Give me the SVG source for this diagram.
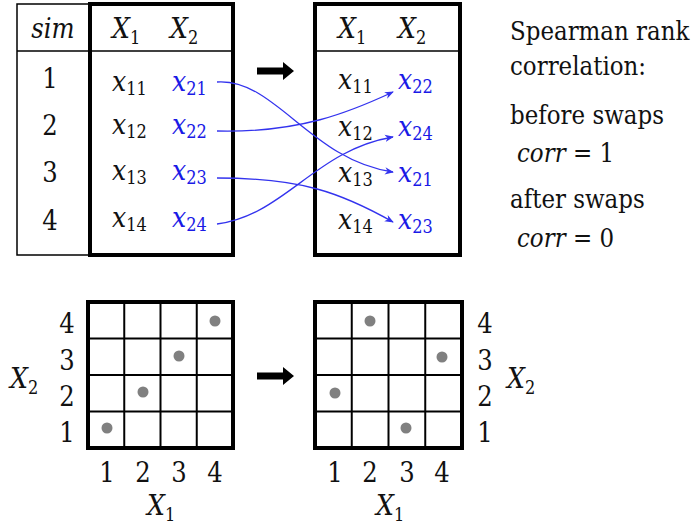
<svg xmlns="http://www.w3.org/2000/svg" width="692" height="529" viewBox="0 0 692 529">
<style>
text{font-family:"DejaVu Serif Condensed","DejaVu Serif",serif;font-stretch:condensed;fill:#111}
.n{font-size:27px}
.t{font-size:25.5px}
.i{font-style:italic}
.v{font-size:28px;font-style:italic}
.s{font-size:18px;font-style:normal}
.b{fill:#1a1ae6}
.thick{fill:none;stroke:#000;stroke-width:4}
.thin{fill:none;stroke:#000;stroke-width:1.5}
.grid{stroke:#000;stroke-width:2}
.dot{fill:#808080}
.con{fill:none;stroke:#3333ee;stroke-width:1.3}
.arr{fill:#000}
</style>
<defs>
<marker id="ah" viewBox="0 0 10 10" refX="9" refY="5" markerWidth="9" markerHeight="9" markerUnits="userSpaceOnUse" orient="auto">
<path d="M0,1 L10,5 L0,9 L3,5 Z" fill="#3333ee"/>
</marker>
</defs>

<g id="table-left">
<rect class="thin" x="17" y="4" width="216" height="251"/>
<line class="thin" x1="17" y1="51" x2="233" y2="51"/>
<rect class="thick" x="90" y="4" width="143" height="251"/>
<text class="n i" x="53" y="38" text-anchor="middle">sim</text>
<text class="n" x="50" y="88" text-anchor="middle">1</text>
<text class="n" x="50" y="135" text-anchor="middle">2</text>
<text class="n" x="50" y="182" text-anchor="middle">3</text>
<text class="n" x="50" y="230" text-anchor="middle">4</text>
<text class="v" x="112" y="38">X<tspan class="s" dy="6">1</tspan></text>
<text class="v" x="170" y="38">X<tspan class="s" dy="6">2</tspan></text>
<text class="v" x="112" y="91">x<tspan class="s" dy="4">11</tspan></text>
<text class="v" x="112" y="134">x<tspan class="s" dy="4">12</tspan></text>
<text class="v" x="112" y="180">x<tspan class="s" dy="4">13</tspan></text>
<text class="v" x="112" y="227">x<tspan class="s" dy="4">14</tspan></text>
<text class="v b" x="172" y="91">x<tspan class="s b" dy="4">21</tspan></text>
<text class="v b" x="172" y="134">x<tspan class="s b" dy="4">22</tspan></text>
<text class="v b" x="172" y="180">x<tspan class="s b" dy="4">23</tspan></text>
<text class="v b" x="172" y="227">x<tspan class="s b" dy="4">24</tspan></text>
</g>

<g id="table-right">
<rect class="thick" x="315" y="4" width="145" height="251"/>
<line class="thin" x1="315" y1="51" x2="460" y2="51"/>
<text class="v" x="338" y="38">X<tspan class="s" dy="6">1</tspan></text>
<text class="v" x="398" y="38">X<tspan class="s" dy="6">2</tspan></text>
<text class="v" x="338" y="89">x<tspan class="s" dy="4">11</tspan></text>
<text class="v" x="338" y="136">x<tspan class="s" dy="4">12</tspan></text>
<text class="v" x="338" y="182">x<tspan class="s" dy="4">13</tspan></text>
<text class="v" x="338" y="229">x<tspan class="s" dy="4">14</tspan></text>
<text class="v b" x="398" y="89">x<tspan class="s b" dy="4">22</tspan></text>
<text class="v b" x="398" y="136">x<tspan class="s b" dy="4">24</tspan></text>
<text class="v b" x="398" y="182">x<tspan class="s b" dy="4">21</tspan></text>
<text class="v b" x="398" y="229">x<tspan class="s b" dy="4">23</tspan></text>
</g>

<g id="notes">
<text class="t" x="510" y="40">Spearman rank</text>
<text class="t" x="510" y="75">correlation:</text>
<text class="t" x="510" y="124">before swaps</text>
<text class="t" x="517" y="162"><tspan class="i">corr</tspan> = 1</text>
<text class="t" x="510" y="208">after swaps</text>
<text class="t" x="517" y="247"><tspan class="i">corr</tspan> = 0</text>
</g>

<g id="grid-left">
<line class="grid" x1="124.25" y1="302" x2="124.25" y2="448"/>
<line class="grid" x1="160.5" y1="302" x2="160.5" y2="448"/>
<line class="grid" x1="196.75" y1="302" x2="196.75" y2="448"/>
<line class="grid" x1="88" y1="338.5" x2="233" y2="338.5"/>
<line class="grid" x1="88" y1="375" x2="233" y2="375"/>
<line class="grid" x1="88" y1="411.5" x2="233" y2="411.5"/>
<rect class="thick" x="88" y="302" width="145" height="146"/>
<circle class="dot" cx="107" cy="428" r="5.5"/>
<circle class="dot" cx="143" cy="392" r="5.5"/>
<circle class="dot" cx="179" cy="356" r="5.5"/>
<circle class="dot" cx="215" cy="321" r="5.5"/>
<text class="n" x="67" y="333" text-anchor="middle">4</text>
<text class="n" x="67" y="370" text-anchor="middle">3</text>
<text class="n" x="67" y="406" text-anchor="middle">2</text>
<text class="n" x="67" y="442" text-anchor="middle">1</text>
<text class="v" x="10" y="388">X<tspan class="s" dy="6">2</tspan></text>
<text class="n" x="107" y="482" text-anchor="middle">1</text>
<text class="n" x="143" y="482" text-anchor="middle">2</text>
<text class="n" x="179" y="482" text-anchor="middle">3</text>
<text class="n" x="215" y="482" text-anchor="middle">4</text>
<text class="v" x="147" y="515">X<tspan class="s" dy="6">1</tspan></text>
</g>

<g id="grid-right">
<line class="grid" x1="351.75" y1="302" x2="351.75" y2="448"/>
<line class="grid" x1="388.5" y1="302" x2="388.5" y2="448"/>
<line class="grid" x1="425.25" y1="302" x2="425.25" y2="448"/>
<line class="grid" x1="315" y1="338.5" x2="462" y2="338.5"/>
<line class="grid" x1="315" y1="375" x2="462" y2="375"/>
<line class="grid" x1="315" y1="411.5" x2="462" y2="411.5"/>
<rect class="thick" x="315" y="302" width="147" height="146"/>
<circle class="dot" cx="370" cy="321" r="5.5"/>
<circle class="dot" cx="442" cy="357" r="5.5"/>
<circle class="dot" cx="335" cy="393" r="5.5"/>
<circle class="dot" cx="406" cy="428" r="5.5"/>
<text class="n" x="485" y="333" text-anchor="middle">4</text>
<text class="n" x="485" y="370" text-anchor="middle">3</text>
<text class="n" x="485" y="406" text-anchor="middle">2</text>
<text class="n" x="485" y="442" text-anchor="middle">1</text>
<text class="v" x="507" y="388">X<tspan class="s" dy="6">2</tspan></text>
<text class="n" x="335" y="482" text-anchor="middle">1</text>
<text class="n" x="370" y="482" text-anchor="middle">2</text>
<text class="n" x="407" y="482" text-anchor="middle">3</text>
<text class="n" x="442" y="482" text-anchor="middle">4</text>
<text class="v" x="376" y="515">X<tspan class="s" dy="6">1</tspan></text>
</g>

<g id="connectors">
<path class="con" marker-end="url(#ah)" d="M217,82 C275,78 310,160 393,172"/>
<path class="con" marker-end="url(#ah)" d="M217,131 C300,133 350,112 393,92"/>
<path class="con" marker-end="url(#ah)" d="M217,178 C300,178 340,192 393,222"/>
<path class="con" marker-end="url(#ah)" d="M217,224 C285,215 315,150 393,137"/>
<path class="arr" d="M257,67.5 L283,67.5 L283,62 L294,71 L283,80 L283,74.5 L257,74.5 Z"/>
<path class="arr" d="M257,372.5 L283,372.5 L283,367 L294,376 L283,385 L283,379.5 L257,379.5 Z"/>
</g>
</svg>
